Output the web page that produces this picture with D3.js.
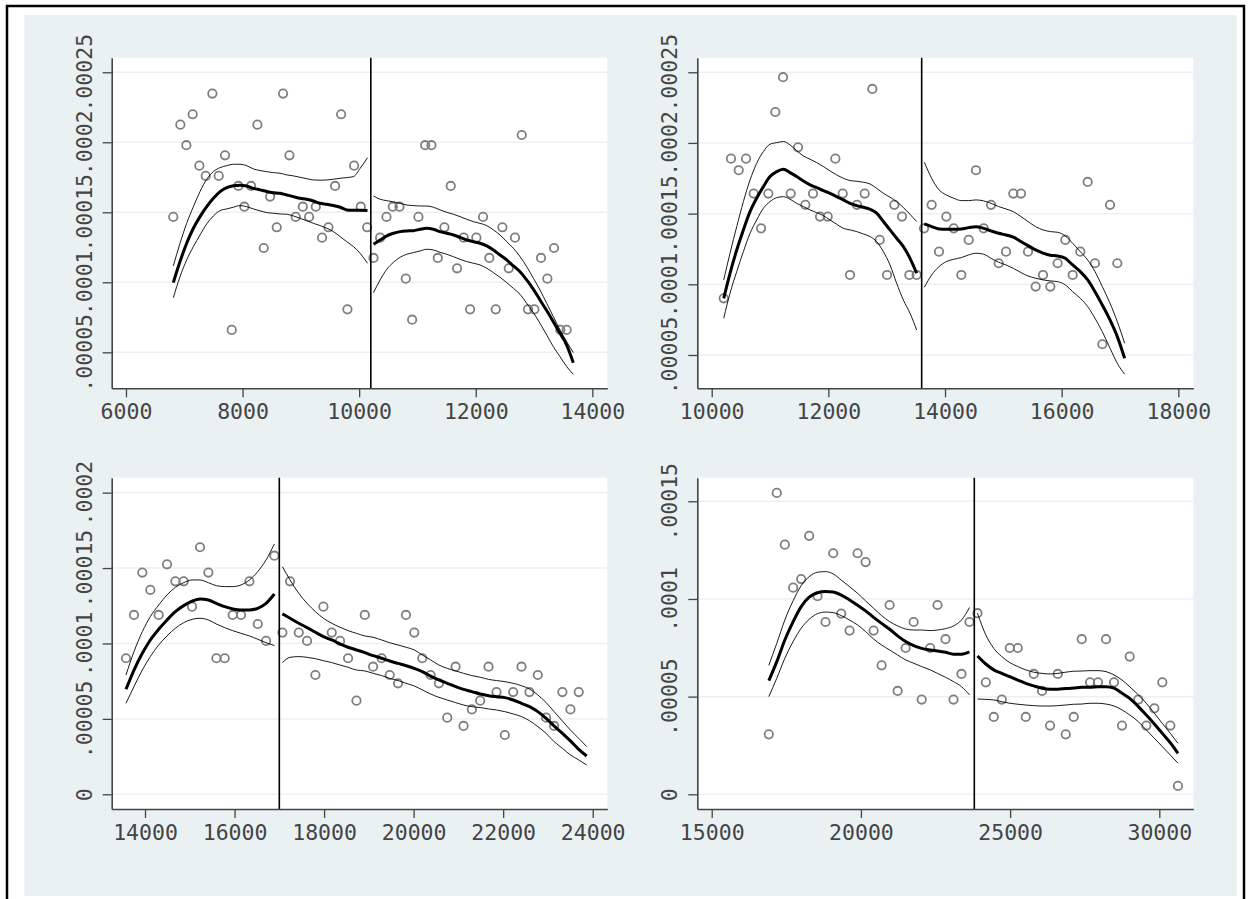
<!DOCTYPE html>
<html>
<head>
<meta charset="utf-8">
<script src="https://cdn.jsdelivr.net/npm/d3@7"></script>
<style>
  body { margin: 0; background: #fff; }
</style>
</head>
<body>
<script>
// cutoff for each panel (vertical line)
const cutoffs = [10200, 13600, 17000, 23800];

// tick values / labels
const p1XTicks = [6000, 8000, 10000, 12000, 14000];
const p2XTicks = [10000, 12000, 14000, 16000, 18000];
const p3XTicks = [14000, 16000, 18000, 20000, 22000, 24000];
const p4XTicks = [15000, 20000, 25000, 30000];
const p1YTicks = [0.00005, 0.0001, 0.00015, 0.0002, 0.00025];
const p1YLabels = ['.00005', '.0001', '.00015', '.0002', '.00025'];
const p2YTicks = [0.00005, 0.0001, 0.00015, 0.0002, 0.00025];
const p2YLabels = ['.00005', '.0001', '.00015', '.0002', '.00025'];
const p3YTicks = [0, 0.00005, 0.0001, 0.00015, 0.0002];
const p3YLabels = ['0', '.00005', '.0001', '.00015', '.0002'];
const p4YTicks = [0, 0.00005, 0.0001, 0.00015];
const p4YLabels = ['0', '.00005', '.0001', '.00015'];

// ---- panel 1: bins
const p1BinXL = [6812, 6933, 7036, 7144, 7259, 7368, 7482, 7591, 7699, 7814, 7928, 8031, 8146, 8254, 8363, 8472, 8586, 8695, 8804, 8912, 9033, 9141, 9256, 9364, 9473, 9588, 9691, 9799, 9914, 10028, 10137];
const p1BinYL = [14.67e-5, 21.26e-5, 19.79e-5, 22.00e-5, 18.33e-5, 17.60e-5, 23.48e-5, 17.60e-5, 19.07e-5, 6.60e-5, 16.88e-5, 15.40e-5, 16.88e-5, 21.26e-5, 12.45e-5, 16.12e-5, 13.93e-5, 23.48e-5, 19.07e-5, 14.67e-5, 15.40e-5, 14.67e-5, 15.40e-5, 13.19e-5, 13.93e-5, 16.88e-5, 22.00e-5, 8.07e-5, 18.33e-5, 15.40e-5, 13.93e-5];
const p1BinXR = [10246, 10360, 10469, 10577, 10692, 10800, 10909, 11017, 11132, 11240, 11349, 11463, 11571, 11680, 11794, 11903, 12011, 12126, 12234, 12343, 12457, 12566, 12674, 12789, 12897, 13006, 13120, 13229, 13343, 13451, 13560];
const p1BinYR = [11.74e-5, 13.19e-5, 14.67e-5, 15.40e-5, 15.40e-5, 10.26e-5, 7.33e-5, 14.67e-5, 19.79e-5, 19.79e-5, 11.74e-5, 13.93e-5, 16.88e-5, 11.00e-5, 13.19e-5, 8.07e-5, 13.19e-5, 14.67e-5, 11.74e-5, 8.07e-5, 13.93e-5, 11.00e-5, 13.19e-5, 20.52e-5, 8.07e-5, 8.07e-5, 11.74e-5, 10.26e-5, 12.45e-5, 6.60e-5, 6.60e-5];
// panel 1: fit and confidence band
const p1FitXL = [6812, 6927, 7041, 7156, 7270, 7385, 7499, 7614, 7728, 7842, 7957, 8071, 8186, 8300, 8415, 8529, 8644, 8758, 8872, 8987, 9101, 9216, 9330, 9445, 9559, 9674, 9788, 9902, 10017, 10143];
const p1FitL = [9.98e-5, 11.48e-5, 12.79e-5, 13.86e-5, 14.69e-5, 15.40e-5, 16.00e-5, 16.48e-5, 16.76e-5, 16.90e-5, 16.93e-5, 16.88e-5, 16.71e-5, 16.60e-5, 16.48e-5, 16.40e-5, 16.36e-5, 16.24e-5, 16.12e-5, 16.00e-5, 15.93e-5, 15.81e-5, 15.64e-5, 15.57e-5, 15.48e-5, 15.36e-5, 15.17e-5, 15.14e-5, 15.14e-5, 15.12e-5];
const p1HiL = [11.17e-5, 12.79e-5, 14.21e-5, 15.40e-5, 16.48e-5, 17.36e-5, 17.90e-5, 18.19e-5, 18.33e-5, 18.43e-5, 18.43e-5, 18.33e-5, 18.10e-5, 17.98e-5, 17.90e-5, 17.83e-5, 17.79e-5, 17.67e-5, 17.60e-5, 17.50e-5, 17.40e-5, 17.31e-5, 17.29e-5, 17.31e-5, 17.36e-5, 17.43e-5, 17.48e-5, 17.55e-5, 18.14e-5, 18.90e-5];
const p1LoL = [8.90e-5, 10.40e-5, 11.60e-5, 12.55e-5, 13.38e-5, 14.17e-5, 14.74e-5, 15.12e-5, 15.24e-5, 15.36e-5, 15.48e-5, 15.40e-5, 15.24e-5, 15.10e-5, 14.98e-5, 14.93e-5, 14.88e-5, 14.86e-5, 14.74e-5, 14.57e-5, 14.40e-5, 14.21e-5, 14.05e-5, 13.86e-5, 13.62e-5, 13.26e-5, 12.90e-5, 12.55e-5, 12.07e-5, 11.36e-5];
const p1FitXR = [10246, 10360, 10474, 10589, 10703, 10817, 10931, 11046, 11160, 11274, 11389, 11503, 11617, 11731, 11846, 11960, 12074, 12189, 12303, 12417, 12531, 12646, 12760, 12874, 12989, 13103, 13217, 13331, 13446, 13560, 13674];
const p1FitR = [12.71e-5, 13.02e-5, 13.31e-5, 13.50e-5, 13.62e-5, 13.67e-5, 13.69e-5, 13.79e-5, 13.86e-5, 13.79e-5, 13.62e-5, 13.50e-5, 13.38e-5, 13.21e-5, 13.02e-5, 12.90e-5, 12.79e-5, 12.60e-5, 12.31e-5, 11.95e-5, 11.60e-5, 11.17e-5, 10.76e-5, 10.17e-5, 9.50e-5, 8.74e-5, 7.98e-5, 7.19e-5, 6.36e-5, 5.52e-5, 4.26e-5];
const p1HiR = [16.17e-5, 15.93e-5, 15.83e-5, 15.74e-5, 15.64e-5, 15.52e-5, 15.48e-5, 15.45e-5, 15.45e-5, 15.36e-5, 15.17e-5, 15.00e-5, 14.86e-5, 14.69e-5, 14.50e-5, 14.33e-5, 14.21e-5, 14.05e-5, 13.74e-5, 13.38e-5, 12.90e-5, 12.43e-5, 11.83e-5, 11.12e-5, 10.29e-5, 9.45e-5, 8.50e-5, 7.55e-5, 6.60e-5, 5.76e-5, 4.98e-5];
const p1LoR = [9.26e-5, 10.17e-5, 10.93e-5, 11.43e-5, 11.79e-5, 12.00e-5, 12.12e-5, 12.24e-5, 12.36e-5, 12.31e-5, 12.14e-5, 12.00e-5, 11.83e-5, 11.64e-5, 11.48e-5, 11.36e-5, 11.24e-5, 11.00e-5, 10.69e-5, 10.36e-5, 9.98e-5, 9.57e-5, 9.14e-5, 8.50e-5, 7.83e-5, 7.07e-5, 6.24e-5, 5.40e-5, 4.69e-5, 3.98e-5, 3.43e-5];

// ---- panel 2: bins
const p2BinXL = [10206, 10331, 10463, 10589, 10720, 10846, 10971, 11091, 11223, 11354, 11480, 11606, 11737, 11857, 11989, 12120, 12246, 12371, 12491, 12623, 12754, 12880, 13006, 13131, 13263, 13389, 13514];
const p2BinYL = [9.01e-5, 18.89e-5, 18.07e-5, 18.89e-5, 16.42e-5, 13.96e-5, 16.42e-5, 22.19e-5, 24.65e-5, 16.42e-5, 19.69e-5, 15.62e-5, 16.42e-5, 14.79e-5, 14.79e-5, 18.89e-5, 16.42e-5, 10.66e-5, 15.62e-5, 16.42e-5, 23.82e-5, 13.14e-5, 10.66e-5, 15.62e-5, 14.79e-5, 10.66e-5, 10.66e-5];
const p2BinXR = [13640, 13771, 13897, 14023, 14149, 14280, 14406, 14531, 14663, 14789, 14920, 15046, 15171, 15303, 15423, 15554, 15680, 15806, 15931, 16063, 16189, 16320, 16446, 16571, 16697, 16829, 16954];
const p2BinYR = [13.96e-5, 15.62e-5, 12.31e-5, 14.79e-5, 13.96e-5, 10.66e-5, 13.14e-5, 18.07e-5, 13.96e-5, 15.62e-5, 11.49e-5, 12.31e-5, 16.42e-5, 16.42e-5, 12.31e-5, 9.84e-5, 10.66e-5, 9.84e-5, 11.49e-5, 13.14e-5, 10.66e-5, 12.31e-5, 17.24e-5, 11.49e-5, 5.76e-5, 15.62e-5, 11.49e-5];
// panel 2: fit and confidence band
const p2FitXL = [10206, 10314, 10429, 10543, 10657, 10771, 10886, 11000, 11114, 11229, 11343, 11457, 11571, 11686, 11800, 11914, 12028, 12143, 12257, 12371, 12486, 12600, 12714, 12828, 12943, 13057, 13171, 13286, 13400, 13514];
const p2FitL = [9.01e-5, 10.78e-5, 12.43e-5, 13.85e-5, 15.14e-5, 16.09e-5, 16.91e-5, 17.62e-5, 17.97e-5, 18.14e-5, 17.90e-5, 17.62e-5, 17.31e-5, 17.03e-5, 16.84e-5, 16.63e-5, 16.44e-5, 16.20e-5, 15.97e-5, 15.73e-5, 15.57e-5, 15.45e-5, 15.31e-5, 15.03e-5, 14.44e-5, 13.85e-5, 13.26e-5, 12.67e-5, 11.84e-5, 10.78e-5];
const p2HiL = [10.31e-5, 12.20e-5, 14.08e-5, 15.85e-5, 17.38e-5, 18.56e-5, 19.39e-5, 19.91e-5, 20.02e-5, 20.10e-5, 19.86e-5, 19.46e-5, 19.08e-5, 18.85e-5, 18.61e-5, 18.33e-5, 18.02e-5, 17.74e-5, 17.50e-5, 17.34e-5, 17.29e-5, 17.22e-5, 17.10e-5, 16.79e-5, 16.44e-5, 16.16e-5, 15.85e-5, 15.43e-5, 14.95e-5, 14.44e-5];
const p2LoL = [7.60e-5, 9.37e-5, 10.90e-5, 12.31e-5, 13.61e-5, 14.55e-5, 15.38e-5, 15.85e-5, 16.13e-5, 16.20e-5, 16.02e-5, 15.73e-5, 15.50e-5, 15.26e-5, 15.07e-5, 14.86e-5, 14.55e-5, 14.25e-5, 13.96e-5, 13.85e-5, 13.73e-5, 13.56e-5, 13.38e-5, 13.02e-5, 12.31e-5, 11.37e-5, 10.07e-5, 8.89e-5, 7.95e-5, 6.77e-5];
const p2FitXR = [13646, 13771, 13897, 14023, 14149, 14280, 14406, 14531, 14663, 14789, 14920, 15046, 15171, 15303, 15423, 15554, 15680, 15806, 15931, 16063, 16189, 16320, 16446, 16571, 16697, 16829, 16954, 17080];
const p2FitR = [14.27e-5, 14.08e-5, 13.92e-5, 13.89e-5, 13.89e-5, 13.92e-5, 14.01e-5, 14.08e-5, 13.96e-5, 13.78e-5, 13.61e-5, 13.49e-5, 13.33e-5, 13.02e-5, 12.74e-5, 12.43e-5, 12.20e-5, 12.05e-5, 12.01e-5, 11.84e-5, 11.37e-5, 10.90e-5, 10.31e-5, 9.48e-5, 8.54e-5, 7.48e-5, 6.30e-5, 4.77e-5];
const p2HiR = [18.63e-5, 17.50e-5, 16.68e-5, 16.32e-5, 16.09e-5, 15.92e-5, 15.92e-5, 15.97e-5, 15.90e-5, 15.73e-5, 15.50e-5, 15.33e-5, 15.14e-5, 14.79e-5, 14.44e-5, 14.08e-5, 13.85e-5, 13.73e-5, 13.68e-5, 13.42e-5, 12.90e-5, 12.31e-5, 11.72e-5, 10.90e-5, 9.84e-5, 8.66e-5, 7.36e-5, 5.83e-5];
const p2LoR = [9.79e-5, 10.66e-5, 11.25e-5, 11.61e-5, 11.77e-5, 11.89e-5, 12.08e-5, 12.20e-5, 12.13e-5, 11.84e-5, 11.56e-5, 11.37e-5, 11.13e-5, 10.83e-5, 10.59e-5, 10.43e-5, 10.31e-5, 10.24e-5, 10.19e-5, 9.96e-5, 9.48e-5, 9.01e-5, 8.42e-5, 7.60e-5, 6.65e-5, 5.48e-5, 4.41e-5, 3.64e-5];

// ---- panel 3: bins
const p3BinXL = [13575, 13754, 13940, 14119, 14305, 14492, 14678, 14864, 15050, 15229, 15415, 15594, 15780, 15959, 16145, 16332, 16518, 16704, 16890];
const p3BinYL = [9.02e-5, 11.89e-5, 14.70e-5, 13.55e-5, 11.89e-5, 15.25e-5, 14.12e-5, 14.12e-5, 12.44e-5, 16.38e-5, 14.70e-5, 9.02e-5, 9.02e-5, 11.89e-5, 11.89e-5, 14.12e-5, 11.29e-5, 10.17e-5, 15.82e-5];
const p3BinXR = [17069, 17240, 17434, 17620, 17806, 17985, 18171, 18357, 18536, 18723, 18909, 19095, 19286, 19465, 19651, 19829, 20015, 20193, 20379, 20565, 20751, 20937, 21115, 21301, 21487, 21673, 21851, 22037, 22223, 22409, 22587, 22773, 22959, 23138, 23323, 23502, 23688];
const p3BinYR = [10.72e-5, 14.12e-5, 10.72e-5, 10.17e-5, 7.91e-5, 12.44e-5, 10.72e-5, 10.17e-5, 9.02e-5, 6.21e-5, 11.89e-5, 8.46e-5, 9.02e-5, 7.91e-5, 7.36e-5, 11.89e-5, 10.72e-5, 9.02e-5, 7.91e-5, 7.36e-5, 5.08e-5, 8.46e-5, 4.53e-5, 5.63e-5, 6.21e-5, 8.46e-5, 6.78e-5, 3.93e-5, 6.78e-5, 8.46e-5, 6.78e-5, 7.91e-5, 5.08e-5, 4.53e-5, 6.78e-5, 5.63e-5, 6.78e-5];
// panel 3: fit and confidence band
const p3FitXL = [13575, 13754, 13940, 14119, 14305, 14492, 14678, 14864, 15050, 15229, 15415, 15594, 15780, 15959, 16145, 16332, 16518, 16704, 16890];
const p3FitL = [6.96e-5, 8.24e-5, 9.35e-5, 10.23e-5, 10.94e-5, 11.56e-5, 12.11e-5, 12.51e-5, 12.80e-5, 12.95e-5, 12.88e-5, 12.66e-5, 12.44e-5, 12.29e-5, 12.22e-5, 12.22e-5, 12.33e-5, 12.66e-5, 13.28e-5];
const p3HiL = [7.91e-5, 9.46e-5, 10.78e-5, 11.78e-5, 12.55e-5, 13.22e-5, 13.72e-5, 14.03e-5, 14.21e-5, 14.21e-5, 14.03e-5, 13.83e-5, 13.77e-5, 13.77e-5, 13.88e-5, 14.21e-5, 14.76e-5, 15.54e-5, 16.60e-5];
const p3LoL = [6.03e-5, 7.14e-5, 8.24e-5, 9.13e-5, 9.90e-5, 10.50e-5, 11.01e-5, 11.38e-5, 11.60e-5, 11.67e-5, 11.56e-5, 11.29e-5, 11.05e-5, 10.85e-5, 10.67e-5, 10.50e-5, 10.28e-5, 10.05e-5, 9.86e-5];
const p3FitXR = [17069, 17240, 17434, 17620, 17806, 17985, 18171, 18357, 18536, 18723, 18909, 19095, 19286, 19465, 19651, 19829, 20015, 20193, 20379, 20565, 20751, 20937, 21115, 21301, 21487, 21673, 21851, 22037, 22223, 22409, 22587, 22773, 22959, 23138, 23323, 23502, 23688, 23866];
const p3FitR = [11.96e-5, 11.67e-5, 11.34e-5, 11.05e-5, 10.74e-5, 10.45e-5, 10.23e-5, 9.97e-5, 9.75e-5, 9.57e-5, 9.39e-5, 9.19e-5, 9.02e-5, 8.84e-5, 8.68e-5, 8.53e-5, 8.35e-5, 8.13e-5, 7.84e-5, 7.58e-5, 7.36e-5, 7.14e-5, 6.96e-5, 6.81e-5, 6.65e-5, 6.54e-5, 6.47e-5, 6.41e-5, 6.25e-5, 6.03e-5, 5.81e-5, 5.48e-5, 5.04e-5, 4.53e-5, 4.04e-5, 3.54e-5, 2.98e-5, 2.54e-5];
const p3HiR = [15.09e-5, 14.21e-5, 13.33e-5, 12.66e-5, 12.11e-5, 11.67e-5, 11.34e-5, 11.07e-5, 10.85e-5, 10.67e-5, 10.50e-5, 10.41e-5, 10.23e-5, 10.05e-5, 9.90e-5, 9.75e-5, 9.57e-5, 9.24e-5, 8.91e-5, 8.57e-5, 8.35e-5, 8.18e-5, 8.02e-5, 7.87e-5, 7.76e-5, 7.62e-5, 7.54e-5, 7.47e-5, 7.36e-5, 7.20e-5, 6.98e-5, 6.59e-5, 6.08e-5, 5.48e-5, 4.86e-5, 4.26e-5, 3.71e-5, 3.16e-5];
const p3LoR = [8.73e-5, 9.08e-5, 9.13e-5, 9.08e-5, 8.99e-5, 8.86e-5, 8.73e-5, 8.57e-5, 8.42e-5, 8.24e-5, 8.18e-5, 8.02e-5, 7.87e-5, 7.69e-5, 7.54e-5, 7.36e-5, 7.18e-5, 6.92e-5, 6.65e-5, 6.43e-5, 6.25e-5, 6.08e-5, 5.92e-5, 5.81e-5, 5.75e-5, 5.66e-5, 5.59e-5, 5.48e-5, 5.33e-5, 5.15e-5, 4.88e-5, 4.49e-5, 4.04e-5, 3.49e-5, 3.05e-5, 2.61e-5, 2.28e-5, 1.94e-5];

// ---- panel 4: bins
const p4BinXL = [16913, 17181, 17450, 17729, 17998, 18266, 18546, 18814, 19072, 19340, 19620, 19888, 20157, 20425, 20694, 20962, 21231, 21499, 21768, 22036, 22321, 22567, 22835, 23103, 23370, 23638];
const p4BinYL = [3.07e-5, 15.43e-5, 12.78e-5, 10.58e-5, 11.02e-5, 13.23e-5, 10.14e-5, 8.82e-5, 12.34e-5, 9.25e-5, 8.38e-5, 12.34e-5, 11.89e-5, 8.38e-5, 6.60e-5, 9.69e-5, 5.29e-5, 7.49e-5, 8.82e-5, 4.85e-5, 7.49e-5, 9.69e-5, 7.94e-5, 4.85e-5, 6.16e-5, 8.82e-5];
const p4BinXR = [23906, 24185, 24453, 24721, 24989, 25257, 25525, 25792, 26071, 26339, 26596, 26864, 27132, 27400, 27679, 27946, 28214, 28482, 28750, 29007, 29297, 29565, 29833, 30101, 30369, 30625];
const p4BinYR = [9.27e-5, 5.73e-5, 3.96e-5, 4.85e-5, 7.49e-5, 7.49e-5, 3.96e-5, 6.16e-5, 5.29e-5, 3.52e-5, 6.16e-5, 3.07e-5, 3.96e-5, 7.94e-5, 5.73e-5, 5.73e-5, 7.94e-5, 5.73e-5, 3.52e-5, 7.05e-5, 4.85e-5, 3.52e-5, 4.40e-5, 5.73e-5, 3.52e-5, 0.43e-5];
// panel 4: fit and confidence band
const p4FitXL = [16913, 17181, 17450, 17729, 17998, 18266, 18546, 18814, 19072, 19340, 19620, 19888, 20157, 20425, 20694, 20962, 21231, 21499, 21768, 22036, 22321, 22567, 22835, 23103, 23370, 23638];
const p4FitL = [5.82e-5, 6.79e-5, 7.90e-5, 8.84e-5, 9.61e-5, 10.09e-5, 10.32e-5, 10.38e-5, 10.36e-5, 10.20e-5, 9.95e-5, 9.68e-5, 9.39e-5, 9.06e-5, 8.75e-5, 8.45e-5, 8.11e-5, 7.82e-5, 7.61e-5, 7.47e-5, 7.39e-5, 7.34e-5, 7.27e-5, 7.17e-5, 7.17e-5, 7.29e-5];
const p4HiL = [6.60e-5, 7.73e-5, 8.92e-5, 9.91e-5, 10.68e-5, 11.14e-5, 11.37e-5, 11.40e-5, 11.28e-5, 10.97e-5, 10.63e-5, 10.29e-5, 9.90e-5, 9.52e-5, 9.15e-5, 8.84e-5, 8.62e-5, 8.46e-5, 8.41e-5, 8.41e-5, 8.38e-5, 8.41e-5, 8.48e-5, 8.62e-5, 8.92e-5, 9.56e-5];
const p4LoL = [5.00e-5, 5.94e-5, 6.96e-5, 7.82e-5, 8.50e-5, 8.96e-5, 9.25e-5, 9.33e-5, 9.30e-5, 9.15e-5, 8.92e-5, 8.67e-5, 8.33e-5, 7.95e-5, 7.64e-5, 7.39e-5, 7.13e-5, 6.88e-5, 6.71e-5, 6.54e-5, 6.37e-5, 6.19e-5, 5.99e-5, 5.77e-5, 5.51e-5, 5.09e-5];
const p4FitXR = [23906, 24185, 24453, 24721, 24989, 25257, 25525, 25792, 26071, 26339, 26596, 26864, 27132, 27400, 27679, 27946, 28214, 28482, 28750, 29007, 29297, 29565, 29833, 30101, 30369, 30625];
const p4FitR = [7.08e-5, 6.67e-5, 6.37e-5, 6.19e-5, 6.02e-5, 5.85e-5, 5.68e-5, 5.55e-5, 5.43e-5, 5.38e-5, 5.38e-5, 5.41e-5, 5.44e-5, 5.48e-5, 5.48e-5, 5.51e-5, 5.51e-5, 5.43e-5, 5.17e-5, 4.91e-5, 4.49e-5, 4.06e-5, 3.60e-5, 3.12e-5, 2.64e-5, 2.10e-5];
const p4HiR = [9.27e-5, 8.16e-5, 7.47e-5, 7.05e-5, 6.74e-5, 6.54e-5, 6.37e-5, 6.25e-5, 6.19e-5, 6.16e-5, 6.19e-5, 6.25e-5, 6.30e-5, 6.31e-5, 6.33e-5, 6.33e-5, 6.28e-5, 6.11e-5, 5.85e-5, 5.51e-5, 5.09e-5, 4.66e-5, 4.15e-5, 3.63e-5, 3.12e-5, 2.61e-5];
const p4LoR = [4.88e-5, 4.86e-5, 4.83e-5, 4.74e-5, 4.66e-5, 4.61e-5, 4.57e-5, 4.54e-5, 4.52e-5, 4.52e-5, 4.54e-5, 4.57e-5, 4.61e-5, 4.62e-5, 4.66e-5, 4.66e-5, 4.62e-5, 4.52e-5, 4.32e-5, 4.06e-5, 3.72e-5, 3.29e-5, 2.87e-5, 2.44e-5, 2.01e-5, 1.59e-5];

// layout of the four panels (plot regions in px, axis ranges)
let panels = [
  {left: 111.7, top: 57.7, w: 495.6, h: 330.6, xDom: [5755, 14257], yDom: [2.43e-5, 26.04e-5],
   xTicks: p1XTicks, yTicks: p1YTicks, yLabels: p1YLabels, cut: cutoffs[0],
   bins: [[p1BinXL, p1BinYL], [p1BinXR, p1BinYR]],
   fits: [[p1FitXL, p1FitL, p1HiL, p1LoL], [p1FitXR, p1FitR, p1HiR, p1LoR]]},
  {left: 697.3, top: 57.7, w: 496, h: 330.6, xDom: [9753, 18257], yDom: [2.644e-5, 26.03e-5],
   xTicks: p2XTicks, yTicks: p2YTicks, yLabels: p2YLabels, cut: cutoffs[1],
   bins: [[p2BinXL, p2BinYL], [p2BinXR, p2BinYR]],
   fits: [[p2FitXL, p2FitL, p2HiL, p2LoL], [p2FitXR, p2FitR, p2HiR, p2LoR]]},
  {left: 111.7, top: 477.7, w: 495.6, h: 331.3, xDom: [13256, 24326], yDom: [-0.975e-5, 20.99e-5],
   xTicks: p3XTicks, yTicks: p3YTicks, yLabels: p3YLabels, cut: cutoffs[2],
   bins: [[p3BinXL, p3BinYL], [p3BinXR, p3BinYR]],
   fits: [[p3FitXL, p3FitL, p3HiL, p3LoL], [p3FitXR, p3FitR, p3HiR, p3LoR]]},
  {left: 697.3, top: 477.7, w: 496, h: 331.3, xDom: [14517, 31139], yDom: [-0.753e-5, 16.208e-5],
   xTicks: p4XTicks, yTicks: p4YTicks, yLabels: p4YLabels, cut: cutoffs[3],
   bins: [[p4BinXL, p4BinYL], [p4BinXR, p4BinYR]],
   fits: [[p4FitXL, p4FitL, p4HiL, p4LoL], [p4FitXR, p4FitR, p4HiR, p4LoR]]}
];

const bg = '#eaf1f3';
const ink = '#444';
const font = '"DejaVu Sans Mono", monospace';

let svg = d3.select('body').append('svg').attr('width', 1248).attr('height', 899);
svg.append('rect').attr('x', 0).attr('y', 0).attr('width', 1248).attr('height', 899).attr('fill', '#fff');
svg.append('rect').attr('x', 24.3).attr('y', 15).attr('width', 1212.4).attr('height', 881).attr('fill', bg);
svg.append('rect').attr('x', 7).attr('y', 6).attr('width', 1237).attr('height', 930).attr('fill', 'none').attr('stroke', '#000').attr('stroke-width', 2.5);

function drawPanel(p) {
  let g = svg.append('g');
  let x = d3.scaleLinear().domain(p.xDom).range([p.left, p.left + p.w]);
  let y = d3.scaleLinear().domain(p.yDom).range([p.top + p.h, p.top]);

  g.append('rect').attr('x', p.left).attr('y', p.top).attr('width', p.w).attr('height', p.h).attr('fill', '#fff');

  // horizontal grid
  g.selectAll(null).data(p.yTicks).enter().append('line')
    .attr('x1', p.left).attr('x2', p.left + p.w)
    .attr('y1', d => y(d)).attr('y2', d => y(d))
    .attr('stroke', bg).attr('stroke-width', 1.5);

  // binned means
  p.bins.forEach(b => {
    g.selectAll(null).data(d3.zip(b[0], b[1])).enter().append('circle')
      .attr('cx', d => x(d[0])).attr('cy', d => y(d[1])).attr('r', 4.2)
      .attr('fill', 'none').attr('stroke', '#7f7f7f').attr('stroke-width', 1.8);
  });

  // fit + CI
  let line = d3.line().x(d => x(d[0])).y(d => y(d[1])).curve(d3.curveMonotoneX);
  p.fits.forEach(f => {
    g.append('path').attr('d', line(d3.zip(f[0], f[2]))).attr('fill', 'none').attr('stroke', '#000').attr('stroke-width', 0.9);
    g.append('path').attr('d', line(d3.zip(f[0], f[3]))).attr('fill', 'none').attr('stroke', '#000').attr('stroke-width', 0.9);
    g.append('path').attr('d', line(d3.zip(f[0], f[1]))).attr('fill', 'none').attr('stroke', '#000').attr('stroke-width', 3);
  });

  // cutoff line
  g.append('line').attr('x1', x(p.cut)).attr('x2', x(p.cut)).attr('y1', p.top).attr('y2', p.top + p.h)
    .attr('stroke', '#000').attr('stroke-width', 1.6);

  // axes
  let xa = g.append('g').attr('transform', `translate(0,${p.top + p.h})`)
    .call(d3.axisBottom(x).tickValues(p.xTicks).tickFormat(d3.format('d')).tickSize(9).tickSizeOuter(0));
  xa.selectAll('text').attr('y', 30.5).attr('dy', 0);

  let ya = g.append('g').attr('transform', `translate(${p.left},0)`)
    .call(d3.axisLeft(y).tickValues(p.yTicks).tickFormat((d, i) => p.yLabels[i]).tickSize(9).tickSizeOuter(0));
  ya.selectAll('text').attr('transform', 'rotate(-90)').attr('x', 0).attr('y', -20).attr('dy', 0).attr('text-anchor', 'middle');

  [xa, ya].forEach(a => {
    a.attr('font-family', font).attr('font-size', 21.5);
    a.select('.domain').attr('stroke', ink).attr('stroke-width', 1.6);
    a.selectAll('.tick line').attr('stroke', ink).attr('stroke-width', 1.3);
    a.selectAll('text').attr('fill', ink);
  });
}

panels.forEach(drawPanel);
</script>
</body>
</html>
